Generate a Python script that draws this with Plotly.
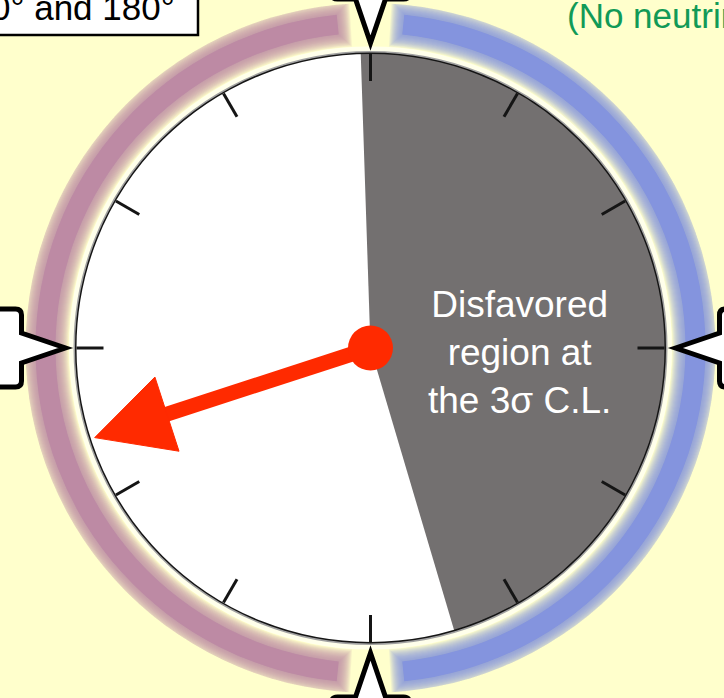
import numpy as np
import plotly.graph_objects as go

# ---------------- data ----------------
tick_step_deg = 30                      # dial tick spacing (delta_CP degrees)
disfavored_range_deg = [-1.9, 163.5]    # 3 sigma disfavored delta_CP interval
best_fit_deg = -108                     # best-fit delta_CP (arrow)
negative_band_deg = [-176.5, -3.5]      # sin(delta) < 0 half (purple)
positive_band_deg = [3.5, 176.5]        # sin(delta) > 0 half (blue)
pointer_angles_deg = [0, 90, 180, -90]  # callout pointers
center_label = "Disfavored<br>region at<br>the 3σ C.L."
box_label = "0° and 180°"
green_top_label = "(No neutrino-antineutrino asymmetry)"
green_bottom_label = "CP"

# ---------------- style / layout ----------------
W, H = 724, 698
CX, CY = 370.5, 348.0        # dial centre, px
R_DIAL = 295.5               # dial radius, px
R_OUT = 345.0                # outer polar (bands) radius, px
BAND_R = 325.0
YELLOW = "#FFFFCC"
GRAY = "#737070"
RED = "#FF2A00"
PURPLE = "#BE8AA4"
BLUE = "#8797E2"
GREEN = "#119A57"
FONT = "Liberation Sans, Arial, sans-serif"


def dom(r):
    xd = [(CX - r) / W, (CX + r) / W]
    yd = [(H - CY - r) / H, (H - CY + r) / H]
    return xd, yd


fig = go.Figure()

# --- soft coloured bands (outer polar) ---
CORE_T = 20.0
N_SOFT = 13
band_layers = [(CORE_T, 1.0)] + [(CORE_T + 2 * k, 0.12) for k in range(1, N_SOFT + 1)]
max_ext = N_SOFT  # px
for rng, col in [(negative_band_deg, PURPLE), (positive_band_deg, BLUE)]:
    for th, op in band_layers:
        ext_px = (th - CORE_T) / 2
        trim = np.degrees((max_ext - ext_px) / BAND_R)
        a0, a1 = rng[0] + trim, rng[1] - trim
        fig.add_trace(go.Barpolar(
            r=[th], base=[BAND_R - th / 2], theta=[(a0 + a1) / 2], width=[a1 - a0],
            marker=dict(color=col, opacity=op, line=dict(width=0)),
            subplot="polar2", hoverinfo="skip", showlegend=False))

# pale halo just outside the dial
fig.add_trace(go.Barpolar(
    r=[6], base=[R_DIAL], theta=[0], width=[360],
    marker=dict(color="white", opacity=0.6, line=dict(width=0)),
    subplot="polar2", hoverinfo="skip", showlegend=False))

# --- dial (inner polar) ---
d0, d1 = disfavored_range_deg
fig.add_trace(go.Barpolar(
    r=[R_DIAL], theta=[(d0 + d1) / 2], width=[d1 - d0],
    marker=dict(color=GRAY, line=dict(width=0)),
    subplot="polar", hoverinfo="skip", showlegend=False))

# arrow
tip_r, head_len, head_half = 290.0, 76.0, 39.0
base_r = tip_r - head_len
fig.add_trace(go.Scatterpolar(
    r=[0, base_r + 4], theta=[best_fit_deg, best_fit_deg], mode="lines",
    line=dict(color=RED, width=15), subplot="polar",
    hoverinfo="skip", showlegend=False))
corner_r = float(np.hypot(base_r, head_half))
corner_dt = float(np.degrees(np.arctan2(head_half, base_r)))
fig.add_trace(go.Scatterpolar(
    r=[tip_r, corner_r, corner_r, tip_r],
    theta=[best_fit_deg, best_fit_deg - corner_dt, best_fit_deg + corner_dt, best_fit_deg],
    mode="lines", fill="toself", fillcolor=RED, line=dict(color=RED, width=1),
    subplot="polar", hoverinfo="skip", showlegend=False))
fig.add_trace(go.Scatterpolar(
    r=[0], theta=[best_fit_deg], mode="markers",
    marker=dict(color=RED, size=45, line=dict(width=0)),
    subplot="polar", hoverinfo="skip", showlegend=False))

xd1, yd1 = dom(R_DIAL)
xd2, yd2 = dom(R_OUT)
fig.update_layout(
    width=W, height=H, margin=dict(l=0, r=0, t=0, b=0),
    paper_bgcolor=YELLOW, plot_bgcolor=YELLOW,
    font=dict(family=FONT),
    polar=dict(
        domain=dict(x=xd1, y=yd1), bgcolor="white",
        radialaxis=dict(visible=False, range=[0, R_DIAL]),
        angularaxis=dict(rotation=90, direction="clockwise", tick0=0, dtick=tick_step_deg,
                         ticks="inside", ticklen=27, tickwidth=2.8, tickcolor="#151515",
                         showticklabels=False, showgrid=False, showline=True,
                         linecolor="#151515", linewidth=3),
    ),
    polar2=dict(
        domain=dict(x=xd2, y=yd2), bgcolor="rgba(0,0,0,0)",
        radialaxis=dict(visible=False, range=[0, R_OUT]),
        angularaxis=dict(visible=False, rotation=90, direction="clockwise"),
    ),
)


# --- pointer callouts (paper-referenced paths) ---
def to_paper(x, y):
    return x / W, 1 - y / H


def pointer_path(theta_deg, tip_dist=305.0):
    t = np.radians(theta_deg)
    dx, dy = np.sin(t), -np.cos(t)   # outward direction (screen)
    px, py = np.cos(t), np.sin(t)    # perpendicular
    tx, ty = CX + tip_dist * dx, CY + tip_dist * dy

    def p(u, v):
        X, Y = to_paper(tx + u * dx + v * px, ty + u * dy + v * py)
        return f"{X:.5f},{Y:.5f}"
    return (f"M{p(0,0)} L{p(44,-15)} L{p(44,-33)} Q{p(44,-39)} {p(50,-39)} "
            f"L{p(170,-39)} L{p(170,39)} L{p(50,39)} Q{p(44,39)} {p(44,33)} "
            f"L{p(44,15)} Z")


shapes = []
for a in pointer_angles_deg:
    shapes.append(dict(type="path", path=pointer_path(a), xref="paper", yref="paper",
                       fillcolor="white", line=dict(color="black", width=5),
                       layer="above"))
# label box (top-left)
bx0, by0 = to_paper(-10, -10)
bx1, by1 = to_paper(198, 35)
shapes.append(dict(type="rect", xref="paper", yref="paper", x0=bx0, x1=bx1, y0=by1, y1=by0,
                   fillcolor="white", line=dict(color="black", width=2.5), layer="above"))
fig.update_layout(shapes=shapes)

ann = []
ax, ay = to_paper(177, 29)
ann.append(dict(text=box_label, x=ax, y=ay, xref="paper", yref="paper",
                xanchor="right", yanchor="bottom", showarrow=False,
                font=dict(size=35, color="black", family=FONT)))
ax, ay = to_paper(565, 37)
ann.append(dict(text=green_top_label, x=ax, y=ay, xref="paper", yref="paper",
                xanchor="left", yanchor="bottom", showarrow=False,
                font=dict(size=35, color=GREEN, family=FONT)))
ax, ay = to_paper(587, 692)
ann.append(dict(text=green_bottom_label, x=ax, y=ay, xref="paper", yref="paper",
                xanchor="left", yanchor="top", showarrow=False,
                font=dict(size=31, color=GREEN, family=FONT)))
ax, ay = to_paper(519, 352)
ann.append(dict(text=center_label, x=ax, y=ay, xref="paper", yref="paper",
                xanchor="center", yanchor="middle", align="center", showarrow=False,
                font=dict(size=37, color="white", family=FONT)))
fig.update_layout(annotations=ann)

fig.write_html("out.html", config={"displayModeBar": False},
               post_script="document.body.style.margin='0';"
                           "document.body.style.overflow='hidden';")
